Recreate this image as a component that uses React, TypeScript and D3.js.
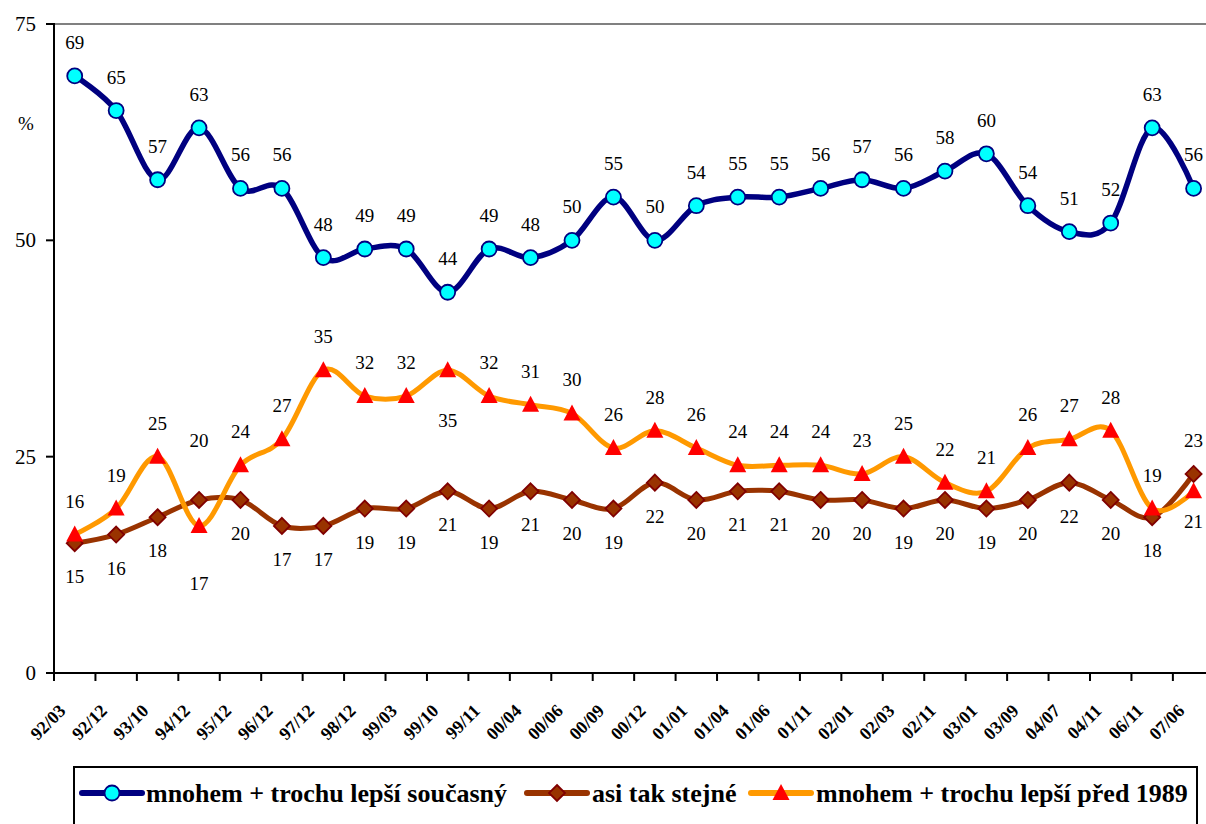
import React from "react";
import * as d3 from "d3";

const categories = ["92/03","92/12","93/10","94/12","95/12","96/12","97/12","98/12","99/03","99/10","99/11","00/04","00/06","00/09","00/12","01/01","01/04","01/06","01/11","02/01","02/03","02/11","03/01","03/09","04/07","04/11","06/11","07/06"];
const currentBetter = [69,65,57,63,56,56,48,49,49,44,49,48,50,55,50,54,55,55,56,57,56,58,60,54,51,52,63,56];
const aboutSame = [15,16,18,20,20,17,17,19,19,21,19,21,20,19,22,20,21,21,20,20,19,20,19,20,22,20,18,23];
const before1989 = [16,19,25,17,24,27,35,32,32,35,32,31,30,26,28,26,24,24,24,23,25,22,21,26,27,28,19,21];
const yTicks = [0, 25, 50, 75];
const seriesNames = ["mnohem + trochu lepší současný", "asi tak stejné", "mnohem + trochu lepší před 1989"];

const W = 1206, H = 824;
const left = 54, top = 24, bottom = 673;
const step = 41.44;
const FONT = '"Liberation Serif", "Times New Roman", Times, serif';

// label placement: baseline offset from point (px)
const ABOVE = -27, BELOW = 40;
const labelOffsetsBlue = currentBetter.map(() => ABOVE);
const labelOffsetsBrown = aboutSame.map((_, i) => (i === 3 ? -53 : i === 27 ? ABOVE : BELOW));
const labelOffsetsOrange = before1989.map((_, i) => (i === 3 ? 64 : i === 9 ? 57 : i === 27 ? 37 : ABOVE));

export default function App() {
  const x = d3.scaleBand<string>().domain(categories).range([left, left + step * categories.length]).padding(0);
  const cx = (c: string) => (x(c) as number) + x.bandwidth() / 2;
  const y = d3.scaleLinear().domain([0, 75]).range([bottom, top]);

  const line = d3.line<number>()
    .x((_, i) => cx(categories[i]))
    .y((d) => y(d))
    .curve(d3.curveCatmullRom.alpha(0));

  const circleMarker = (px: number, py: number, k: string | number) => (
    <circle key={k} cx={px} cy={py} r={7.5} fill="#00FFFF" stroke="#000080" strokeWidth={1.8} />
  );
  const diamondMarker = (px: number, py: number, k: string | number) => (
    <path key={k} d={`M${px},${py - 8}L${px + 8},${py}L${px},${py + 8}L${px - 8},${py}Z`} fill="#993300" stroke="#800000" strokeWidth={1.8} />
  );
  const triMarker = (px: number, py: number, k: string | number) => (
    <path key={k} d={`M${px},${py - 9}L${px + 8.5},${py + 7}L${px - 8.5},${py + 7}Z`} fill="#FF0000" />
  );

  const series = [
    { data: currentBetter, color: "#000080", width: 5.5, marker: circleMarker, offsets: labelOffsetsBlue },
    { data: aboutSame, color: "#993300", width: 5, marker: diamondMarker, offsets: labelOffsetsBrown },
    { data: before1989, color: "#FF9900", width: 5, marker: triMarker, offsets: labelOffsetsOrange },
  ];

  const boundaries = d3.range(categories.length + 1).map((k) => left + k * x.step());

  const legendSymX = [82, 527, 751];
  const legendTextX = [146, 592, 816];
  const legendY = 793;
  const txt = { fontFamily: FONT };

  return (
    <svg width={W} height={H} style={{ position: "absolute", left: 0, top: 0, background: "#fff", fontFamily: FONT }}>
      <rect x={0} y={0} width={W} height={H} fill="#fff" />
      <line x1={left} x2={W} y1={y(75)} y2={y(75)} stroke="#808080" strokeWidth={2} />
      <line x1={left} x2={left} y1={y(75) - 1} y2={y(0)} stroke="#000" strokeWidth={2} />
      {yTicks.map((t) => (
        <g key={t}>
          <line x1={left - 8} x2={left} y1={y(t)} y2={y(t)} stroke="#000" strokeWidth={2} />
          <text x={36} y={y(t) + 7} textAnchor="end" fontSize={21} fill="#000" style={txt}>{t}</text>
        </g>
      ))}
      <text x={26} y={130} textAnchor="middle" fontSize={19} fill="#000" style={txt}>%</text>
      <line x1={left} x2={W} y1={y(0)} y2={y(0)} stroke="#000" strokeWidth={2} />
      {boundaries.map((b, i) => (
        <line key={i} x1={b} x2={b} y1={y(0)} y2={y(0) + 8} stroke="#000" strokeWidth={2} />
      ))}
      {categories.map((c) => (
        <text key={c} transform={`translate(${cx(c) - 8},${712}) rotate(-45)`} textAnchor="end" fontSize={18} fontWeight="bold" fill="#000" style={txt}>{c}</text>
      ))}
      {series.map((s, si) => (
        <g key={si}>
          <path d={line(s.data) || ""} fill="none" stroke={s.color} strokeWidth={s.width} strokeLinejoin="round" strokeLinecap="round" />
          {s.data.map((v, i) => s.marker(cx(categories[i]), y(v), i))}
        </g>
      ))}
      {series.map((s, si) => (
        <g key={"l" + si}>
          {s.data.map((v, i) => (
            <text key={i} x={cx(categories[i])} y={y(v) + s.offsets[i]} textAnchor="middle" fontSize={19} fill="#000" style={txt}>{v}</text>
          ))}
        </g>
      ))}
      <rect x={74} y={767} width={1123} height={80} fill="#fff" stroke="#000" strokeWidth={2} />
      {series.map((s, si) => (
        <g key={"lg" + si}>
          <line x1={legendSymX[si]} x2={legendSymX[si] + 60} y1={legendY} y2={legendY} stroke={s.color} strokeWidth={6} strokeLinecap="round" />
          {s.marker(legendSymX[si] + 30, legendY, "m")}
          <text x={legendTextX[si]} y={802} fontSize={26} fontWeight="bold" fill="#000" style={txt}>{seriesNames[si]}</text>
        </g>
      ))}
    </svg>
  );
}
